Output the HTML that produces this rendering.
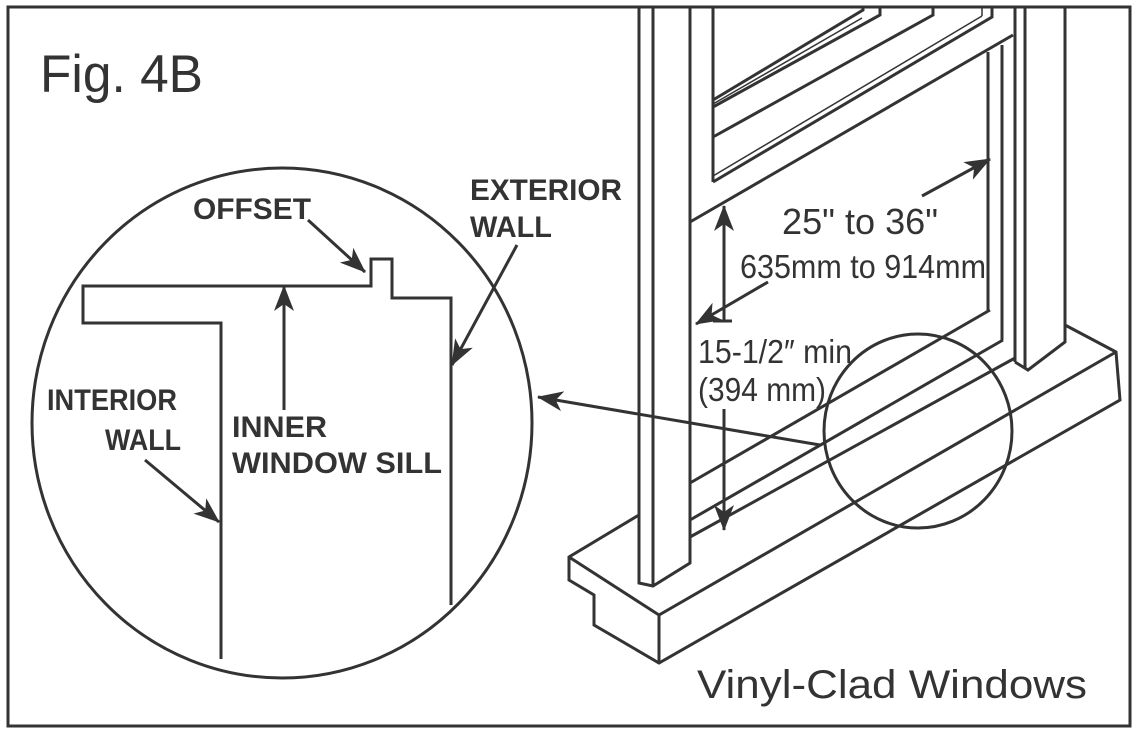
<!DOCTYPE html>
<html><head><meta charset="utf-8"><style>
html,body{margin:0;padding:0;background:#fff;}
svg{display:block;}
</style></head><body>
<svg width="1138" height="738" viewBox="0 0 1138 738" xmlns="http://www.w3.org/2000/svg">
<defs>
<marker id="ah" viewBox="0 0 26 20" refX="25" refY="10" markerWidth="26" markerHeight="20" markerUnits="userSpaceOnUse" orient="auto">
<path d="M0,0 L26,10 L0,20 L7,10 Z" fill="#333"/>
</marker>
</defs>
<rect x="0" y="0" width="1138" height="738" fill="#fff"/>
<rect x="8" y="7" width="1122" height="719" fill="none" stroke="#333" stroke-width="3"/>
<g fill="none" stroke="#333" stroke-width="3" stroke-linejoin="miter">
<ellipse cx="282" cy="423" rx="250" ry="255"/>
<polyline points="221,659 221,323 83,323 83,286 371,286 371,259 392,259 392,298 451,298 451,605"/>
<polyline points="639,8 639,583 653,586 690,563 690,8"/>
<line x1="653" y1="8" x2="653" y2="586"/>
<line x1="713" y1="8" x2="713" y2="182"/>
<polyline points="713,100 863,10 863,8"/>
<line x1="713" y1="104" x2="862" y2="18" stroke-width="1.5"/>
<polyline points="713,107 880,15 880,8"/>
<polyline points="713,137 933,15 933,8"/>
<polyline points="713,182 992,17 992,8"/>
<line x1="713" y1="176" x2="982" y2="16" stroke-width="1.5"/>
<line x1="982" y1="16" x2="982" y2="8" stroke-width="1.5"/>
<line x1="690" y1="222" x2="1013" y2="35"/>
<line x1="988" y1="52" x2="988" y2="312"/>
<line x1="1002" y1="45" x2="1002" y2="340"/>
<line x1="1015" y1="8" x2="1015" y2="362"/>
<line x1="1025" y1="8" x2="1025" y2="368"/>
<polyline points="1015,362 1028,370 1065,342 1065,8"/>
<line x1="690" y1="483" x2="990" y2="310"/>
<line x1="690" y1="520" x2="1003" y2="340"/>
<line x1="690" y1="537" x2="1015" y2="358"/>
<polyline points="639,515 569,557 569,580 594,595 594,625 659,663 1120,400 1116,352 1065,325"/>
<polyline points="569,557 659,615 1116,352"/>
<line x1="659" y1="615" x2="659" y2="663"/>
<ellipse cx="918" cy="431" rx="94" ry="97"/>
</g>
<g stroke="#333" stroke-width="3" fill="none">
<line x1="820" y1="445" x2="538" y2="397" marker-end="url(#ah)"/>
<line x1="308" y1="220" x2="365" y2="272" marker-end="url(#ah)"/>
<line x1="284" y1="410" x2="284" y2="286" marker-end="url(#ah)"/>
<line x1="145" y1="460" x2="219" y2="522" marker-end="url(#ah)"/>
<line x1="517" y1="245" x2="452" y2="365" marker-end="url(#ah)"/>
<line x1="724" y1="321" x2="724" y2="206" marker-end="url(#ah)"/>
<line x1="713" y1="321" x2="732" y2="321"/>
<line x1="724" y1="409" x2="724" y2="530" marker-end="url(#ah)"/>
<line x1="768" y1="282" x2="696" y2="324" marker-end="url(#ah)"/>
<line x1="922" y1="196" x2="990" y2="159" marker-end="url(#ah)"/>
</g>
<g fill="#333" font-family="Liberation Sans, sans-serif">
<text x="40" y="92" font-size="53" textLength="163" lengthAdjust="spacingAndGlyphs">Fig. 4B</text>
<text x="697" y="698" font-size="40" textLength="390" lengthAdjust="spacingAndGlyphs">Vinyl-Clad Windows</text>
<text x="782" y="234" font-size="36" textLength="156" lengthAdjust="spacingAndGlyphs">25" to 36"</text>
<text x="740" y="278" font-size="33" textLength="246" lengthAdjust="spacingAndGlyphs">635mm to 914mm</text>
<text x="698" y="363" font-size="33" textLength="154" lengthAdjust="spacingAndGlyphs">15-1/2″ min</text>
<text x="698" y="401" font-size="33" textLength="128" lengthAdjust="spacingAndGlyphs">(394 mm)</text>
</g>
<g fill="#333" font-family="Liberation Sans, sans-serif" font-weight="bold" font-size="30">
<text x="193" y="219" textLength="118" lengthAdjust="spacingAndGlyphs">OFFSET</text>
<text x="470" y="200" textLength="152" lengthAdjust="spacingAndGlyphs">EXTERIOR</text>
<text x="470" y="237" textLength="82" lengthAdjust="spacingAndGlyphs">WALL</text>
<text x="47" y="410" textLength="130" lengthAdjust="spacingAndGlyphs">INTERIOR</text>
<text x="105" y="450" textLength="76" lengthAdjust="spacingAndGlyphs">WALL</text>
<text x="232" y="437" textLength="95" lengthAdjust="spacingAndGlyphs">INNER</text>
<text x="232" y="473" textLength="210" lengthAdjust="spacingAndGlyphs">WINDOW SILL</text>
</g>
</svg>
</body></html>
